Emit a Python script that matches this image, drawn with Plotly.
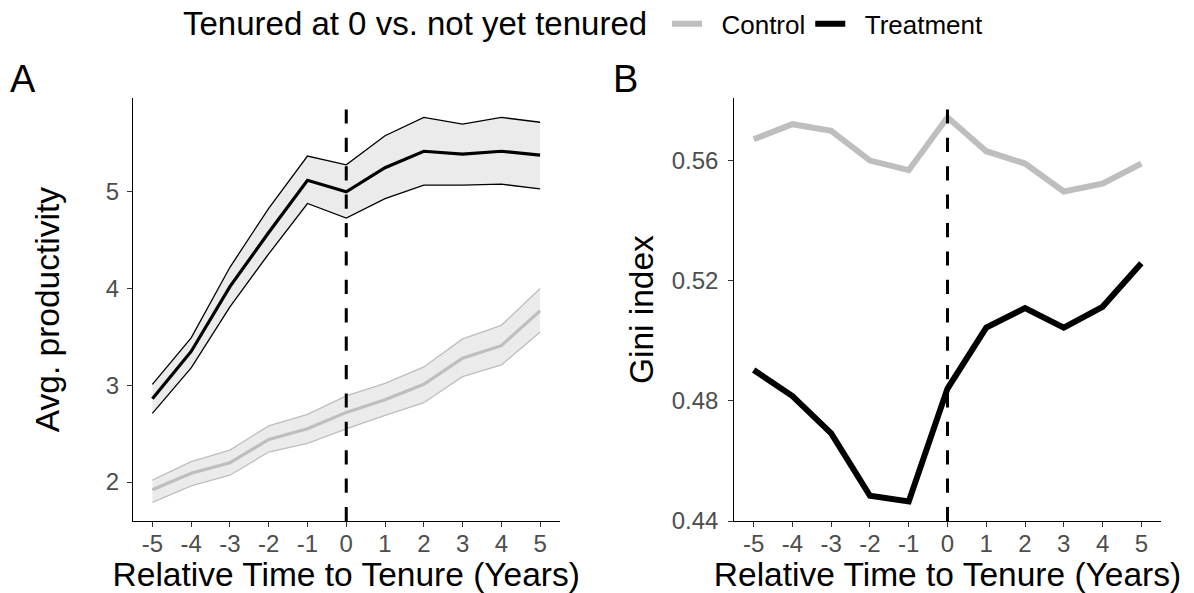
import plotly.graph_objects as go

# ---------------- data ----------------
years = [-5, -4, -3, -2, -1, 0, 1, 2, 3, 4, 5]
year_labels = ["-5", "-4", "-3", "-2", "-1", "0", "1", "2", "3", "4", "5"]
tenure_year = 0

# Panel A: average productivity (mean and confidence band)
prod_control_mean = [1.92, 2.09, 2.20, 2.44, 2.55, 2.72, 2.85, 3.01, 3.28, 3.41, 3.77]
prod_control_low = [1.79, 1.96, 2.07, 2.31, 2.40, 2.55, 2.69, 2.82, 3.09, 3.21, 3.55]
prod_control_high = [2.02, 2.21, 2.33, 2.58, 2.70, 2.89, 3.02, 3.19, 3.48, 3.62, 4.00]

prod_treat_mean = [2.86, 3.35, 4.02, 4.58, 5.12, 5.00, 5.25, 5.42, 5.39, 5.42, 5.38]
prod_treat_low = [2.71, 3.18, 3.81, 4.36, 4.88, 4.73, 4.93, 5.07, 5.07, 5.08, 5.03]
prod_treat_high = [3.01, 3.49, 4.22, 4.83, 5.37, 5.28, 5.58, 5.77, 5.70, 5.77, 5.72]

# Panel B: Gini index
gini_control = [0.5671, 0.5721, 0.5699, 0.5600, 0.5568, 0.5744, 0.5631, 0.5590, 0.5497, 0.5523, 0.5590]
gini_treat = [0.4903, 0.4816, 0.4692, 0.4484, 0.4465, 0.4841, 0.5044, 0.5109, 0.5044, 0.5113, 0.5258]

yticks_a = [2, 3, 4, 5]
yticks_b = [0.44, 0.48, 0.52, 0.56]

series_names = ["Control", "Treatment"]
legend_title = "Tenured at 0 vs. not yet tenured"
x_title = "Relative Time to Tenure (Years)"
ya_title = "Avg. productivity"
yb_title = "Gini index"

# ---------------- styles ----------------
FONT = "Liberation Sans, Arial, Helvetica, sans-serif"
GRAY = "#BEBEBE"
BLACK = "#000000"
RIBBON = "#EBEBEB"
TICKCOL = "#4D4D4D"
NB = "\u00a0"

fig = go.Figure()

# Panel A ribbons and lines
for low, high, col in [
    (prod_control_low, prod_control_high, GRAY),
    (prod_treat_low, prod_treat_high, BLACK),
]:
    fig.add_trace(go.Scatter(x=years, y=low, mode="lines", line=dict(color=col, width=1.3),
                             showlegend=False, hoverinfo="skip", xaxis="x", yaxis="y"))
    fig.add_trace(go.Scatter(x=years, y=high, mode="lines", line=dict(color=col, width=1.3),
                             fill="tonexty", fillcolor=RIBBON,
                             showlegend=False, hoverinfo="skip", xaxis="x", yaxis="y"))
for mean, col, name in [(prod_control_mean, GRAY, series_names[0]),
                        (prod_treat_mean, BLACK, series_names[1])]:
    fig.add_trace(go.Scatter(x=years, y=mean, mode="lines", line=dict(color=col, width=3.2),
                             name=name, legendgroup=name, showlegend=False,
                             xaxis="x", yaxis="y"))

# Panel B lines (these carry the legend)
for vals, col, name in [(gini_control, GRAY, series_names[0]),
                        (gini_treat, BLACK, series_names[1])]:
    fig.add_trace(go.Scatter(x=years, y=vals, mode="lines", line=dict(color=col, width=6),
                             name=NB * 2 + name, legendgroup=name, showlegend=True,
                             xaxis="x2", yaxis="y2"))

# dashed tenure lines
for xr, yr in [("x", "y domain"), ("x2", "y2 domain")]:
    fig.add_shape(type="line", xref=xr, yref=yr, x0=tenure_year, x1=tenure_year, y0=0, y1=1,
                  line=dict(color=BLACK, width=3, dash="14.2px,14.2px"), layer="above")

W, H = 1194, 593
axis_common = dict(showline=True, linecolor=BLACK, linewidth=1.2, showgrid=False, zeroline=False,
                   ticks="outside", ticklen=5, tickwidth=1.1, tickcolor="#333333",
                   tickfont=dict(family=FONT, size=24, color=TICKCOL), automargin=False)
TITLE_FONT = dict(family=FONT, size=33.5, color=BLACK)

fig.update_layout(
    width=W, height=H,
    margin=dict(l=0, r=0, t=0, b=0),
    plot_bgcolor="white", paper_bgcolor="white",
    font=dict(family=FONT, color=BLACK),
    xaxis=dict(domain=[133 / W, 559.5 / W], range=[-5.5, 5.5], tickvals=years, ticktext=year_labels,
               anchor="y", ticklabelstandoff=-4,
               title=dict(text=x_title, font=TITLE_FONT, standoff=4),
               **axis_common),
    yaxis=dict(domain=[(H - 520.7) / H, (H - 94.7) / H], range=[1.595, 5.97], tickvals=yticks_a,
               anchor="x", ticklabelstandoff=3,
               title=dict(text=ya_title, font=TITLE_FONT, standoff=36),
               **axis_common),
    xaxis2=dict(domain=[734.3 / W, 1160.7 / W], range=[-5.5, 5.5], tickvals=years, ticktext=year_labels,
                anchor="y2", ticklabelstandoff=-4,
                title=dict(text=x_title, font=TITLE_FONT, standoff=4),
                **axis_common),
    yaxis2=dict(domain=[(H - 520.7) / H, (H - 94.7) / H], range=[0.43995, 0.5808], tickvals=yticks_b,
                tickformat=".2f", anchor="x2", ticklabelstandoff=5,
                title=dict(text=yb_title, font=TITLE_FONT, standoff=7),
                **axis_common),
    legend=dict(orientation="h", x=667 / W, xanchor="left", y=(H - 20) / H, yanchor="middle",
                font=dict(size=26, family=FONT, color=BLACK), itemwidth=30,
                bgcolor="rgba(0,0,0,0)"),
    annotations=[
        dict(text=legend_title, xref="paper", yref="paper", x=181 / W, y=(H - 20) / H,
             xanchor="left", yanchor="middle", showarrow=False, font=dict(size=33, color=BLACK)),
        dict(text="A", xref="paper", yref="paper", x=8 / W, y=(H - 75.5) / H,
             xanchor="left", yanchor="middle", showarrow=False, font=dict(size=38, color=BLACK)),
        dict(text="B", xref="paper", yref="paper", x=611 / W, y=(H - 75.5) / H,
             xanchor="left", yanchor="middle", showarrow=False, font=dict(size=38, color=BLACK)),
    ],
)

fig.write_html("out.html", config={"displayModeBar": False},
               post_script="document.body.style.margin='0px';")
